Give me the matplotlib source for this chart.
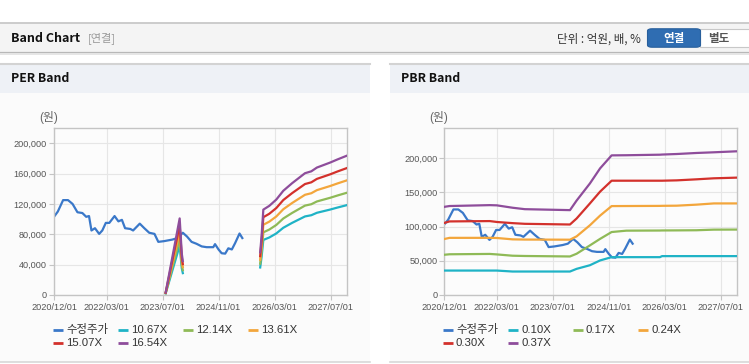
import matplotlib
matplotlib.use("Agg")
import matplotlib.pyplot as plt
from matplotlib.patches import Rectangle, FancyBboxPatch
from matplotlib.lines import Line2D
from matplotlib.ticker import FuncFormatter

plt.rcParams['font.family'] = ['Liberation Sans', 'Noto Sans CJK KR', 'DejaVu Sans']

W, H = 749, 364

## x axis is months counted from 2020/12/01
tick_months = [0, 15, 31, 47, 63, 79]
tick_labels = ['2020/12/01', '2022/03/01', '2023/07/01', '2024/11/01', '2026/03/01', '2027/07/01']
x_end = 83.7

## 수정주가 (won)
price_m = [0, 1.1, 2.6, 4.0, 5.3, 6.7, 8.1, 9.2, 10.0, 10.7, 11.7, 12.9, 13.8, 14.8, 15.8,
           17.3, 18.4, 19.4, 20.3, 21.8, 22.6, 24.5, 25.8, 27.2, 28.7, 29.8, 31.5, 33.8,
           35.3, 36.8, 38.0, 39.3, 40.7, 42.2, 43.6, 45.5, 46.0, 47.0, 47.9, 48.9, 49.8,
           50.8, 51.7, 53.0, 53.8]
price = [103000, 110000, 125000, 125000, 120000, 109000, 108000, 103000, 104000, 85000,
         88000, 80500, 85000, 95000, 95000, 104000, 97000, 99000, 88000, 87000, 85000,
         94000, 88000, 82000, 80500, 70000, 71000, 73000, 75000, 82000, 77000, 70000,
         67500, 64000, 63000, 63000, 67000, 60000, 55000, 54500, 61500, 60000, 68000,
         81000, 75000]

## PER band: EPS (won) in two pieces, times the multiples
per_names = ['10.67X', '12.14X', '13.61X', '15.07X', '16.54X']
per_mult = [10.67, 12.14, 13.61, 15.07, 16.54]
eps1_m = [31.9, 35.9, 36.5, 36.8]
eps1 = [200, 6100, 3300, 2700]
eps2_m = [58.9, 59.3, 59.8, 61.5, 63.5, 65.5, 68.0, 71.7, 73.5, 75.1, 77.0, 78.9, 81.0, 83.7]
eps2 = [3400, 4700, 6800, 7100, 7600, 8300, 8900, 9700, 9850, 10150, 10350, 10550, 10800, 11100]

## PBR band (won)
pbr_names = ['0.10X', '0.17X', '0.24X', '0.30X', '0.37X']
pbr_m = [0, 1.5, 13, 15, 19.5, 23, 35.9, 37.8, 41.6, 44.5, 47.8, 52, 61.6, 62.2, 66.4, 72, 77, 83.7]
pbr_010 = [35700, 35700, 35700, 35700, 34300, 34300, 34300, 38200, 43500, 50500, 55300, 55300,
           55300, 56800, 56800, 56800, 56800, 56800]
pbr_017 = [58800, 59500, 60000, 59300, 57400, 57000, 56300, 60300, 72500, 82000, 92000, 94000,
           94200, 94300, 94400, 94600, 95500, 95600]
pbr_024 = [81800, 83500, 83500, 83300, 81300, 81000, 80800, 85700, 101900, 116000, 129900, 130000,
           130200, 130300, 130500, 132000, 133800, 133800]
pbr_030 = [105300, 107500, 108000, 106700, 105000, 104000, 103000, 111800, 133800, 151000, 167000,
           167000, 167000, 167000, 167500, 169000, 170500, 171500]
pbr_037 = [128800, 130000, 131300, 131000, 127500, 125400, 124000, 138000, 163000, 185000, 204000,
           204200, 205000, 205200, 206000, 207500, 208500, 210000]
pbr_bands = [pbr_010, pbr_017, pbr_024, pbr_030, pbr_037]

price_color = '#3a78c9'
band_colors = ['#1fb3c6', '#8fba57', '#f3a63c', '#d3312c', '#8e4d9b']


def fx(x):
    return x / W


def fy(y):
    return 1 - y / H


def box(x0, y0, x1, y1, fc, **kw):
    fig.add_artist(Rectangle((fx(x0), fy(y1)), (x1 - x0) / W, (y1 - y0) / H,
                             transform=fig.transFigure, fc=fc, ec='none', zorder=0.5, **kw))


def hline(x0, x1, y, color, lw=1.0):
    fig.add_artist(Line2D([fx(x0), fx(x1)], [fy(y), fy(y)], transform=fig.transFigure,
                          color=color, lw=lw, zorder=0.6))


fig = plt.figure(figsize=(W / 100, H / 100), dpi=100, facecolor='white')

##Top header bar
box(0, 23, W, 52, '#f4f4f4')
hline(0, W, 23, '#c4c4c4', 1.2)
hline(0, W, 52, '#b8b8b8', 0.9)
hline(0, W, 53.5, '#e2e2e2', 1.2)
fig.text(fx(11), fy(38.5), 'Band Chart', fontsize=9, fontweight='bold', color='#111',
         va='center', family=['Noto Sans CJK KR'])
fig.text(fx(88), fy(38.5), '[연결]', fontsize=8, color='#999', va='center',
         family=['Noto Sans CJK KR'])
fig.text(fx(641), fy(39), '단위 : 억원, 배, %', fontsize=8.3, color='#333', va='center', ha='right',
         family=['Noto Sans CJK KR'])
fig.add_artist(FancyBboxPatch((fx(700), fy(47)), 52 / W, 18 / H, boxstyle='square,pad=0',
                              transform=fig.transFigure, fc='white', ec='#c8c8c8', lw=0.8))
fig.add_artist(FancyBboxPatch((fx(649), fy(46.5)), 50 / W, 17 / H,
                              boxstyle='round,pad=0.002,rounding_size=0.006',
                              transform=fig.transFigure, fc='#2f6db2', ec='#285f9c', lw=0.8))
fig.text(fx(674), fy(38.5), '연결', fontsize=8.3, fontweight='bold', color='white',
         ha='center', va='center', family=['Noto Sans CJK KR'])
fig.text(fx(719), fy(38.5), '별도', fontsize=8.3, fontweight='bold', color='#555',
         ha='center', va='center', family=['Noto Sans CJK KR'])

##Panels
for (px0, px1, title) in [(0, 370, 'PER Band'), (390, W, 'PBR Band')]:
    box(px0, 64, px1, 362, '#fbfbfb')
    box(px0, 64, px1, 93, '#eef1f6')
    hline(px0, px1, 64, '#d3d3d3', 1.5)
    hline(px0, px1, 362, '#d8d8d8', 1.2)
    fig.text(fx(px0 + 11), fy(79), title, fontsize=8.8, fontweight='bold', color='#111',
             va='center', family=['Noto Sans CJK KR'])


def style_axes(ax, yticks, ytop):
    ax.set_zorder(5)
    ax.set_facecolor('#fcfcfc')
    ax.set_xlim(0, x_end)
    ax.set_ylim(0, ytop)
    ax.set_xticks(tick_months)
    ax.set_xticklabels(tick_labels)
    ax.set_yticks(yticks)
    ax.yaxis.set_major_formatter(FuncFormatter(lambda v, p: f'{int(v):,}'))
    ax.grid(True, color='#e6e6e6', lw=0.8)
    ax.set_axisbelow(True)
    for s in ax.spines.values():
        s.set_color('#c4c4c4')
        s.set_linewidth(1.0)
    ax.tick_params(axis='both', colors='#c4c4c4', labelcolor='#555', labelsize=6.6,
                   length=3.5, width=0.8)
    ax.tick_params(axis='x', pad=2)
    ax.tick_params(axis='y', pad=1.5)


def draw_legend(x0, names):
    labels = ['수정주가'] + names
    colors = [price_color] + band_colors
    for i, (lab, col) in enumerate(zip(labels, colors)):
        r, c = divmod(i, 4)
        x = x0 + c * 65
        y = 330 + r * 13
        fig.add_artist(Line2D([fx(x), fx(x + 10)], [fy(y), fy(y)], transform=fig.transFigure,
                              color=col, lw=2.0, solid_capstyle='butt'))
        fig.text(fx(x + 13), fy(y), lab, fontsize=8.2, color='#333', va='center')


##PER chart
ax1 = fig.add_axes([fx(54), fy(295), 293 / W, 167 / H])
style_axes(ax1, [0, 40000, 80000, 120000, 160000, 200000], 220000)
ax1.plot(price_m, price, color=price_color, lw=1.6, zorder=2)
for mult, col in zip(per_mult, band_colors):
    ax1.plot(eps1_m, [e * mult for e in eps1], color=col, lw=1.6, zorder=3)
    ax1.plot(eps2_m, [e * mult for e in eps2], color=col, lw=1.6, zorder=3)
fig.text(fx(49), fy(118), '(원)', fontsize=8.5, color='#666', ha='center', va='center')
draw_legend(53, per_names)

##PBR chart
ax2 = fig.add_axes([fx(444.3), fy(295), 293 / W, 167 / H])
style_axes(ax2, [0, 50000, 100000, 150000, 200000], 244000)
ax2.plot(price_m, price, color=price_color, lw=1.6, zorder=2)
for vals, col in zip(pbr_bands, band_colors):
    ax2.plot(pbr_m, vals, color=col, lw=1.6, zorder=3)
fig.text(fx(439), fy(118), '(원)', fontsize=8.5, color='#666', ha='center', va='center')
draw_legend(443, pbr_names)

fig.savefig('out.png', dpi=100, facecolor='white')
